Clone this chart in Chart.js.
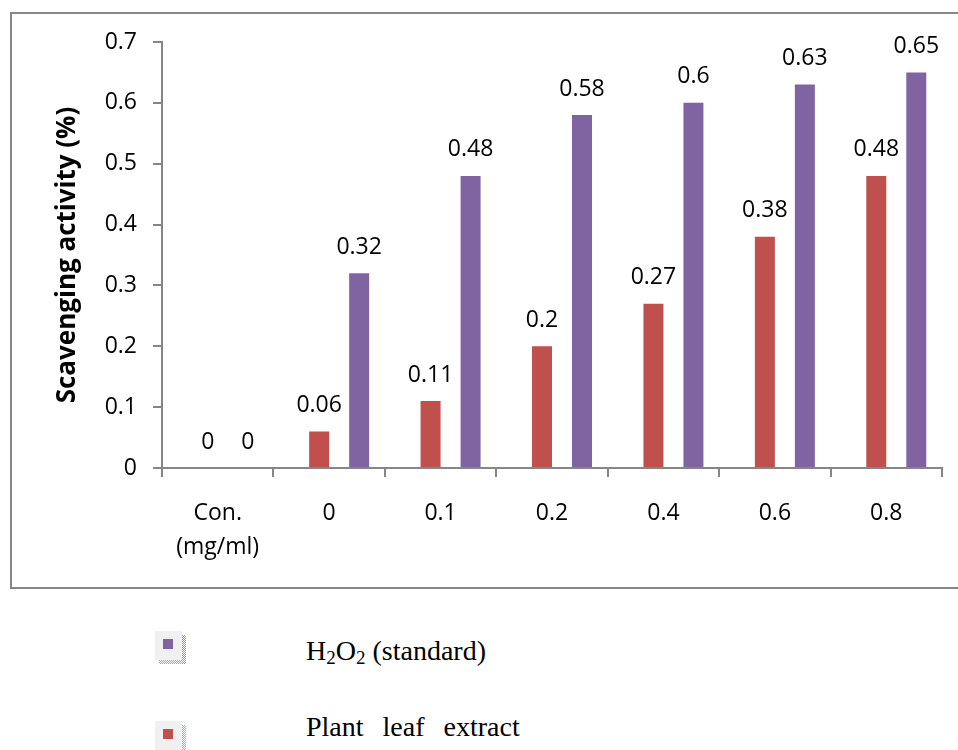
<!DOCTYPE html>
<html>
<head>
<meta charset="utf-8">
<script src="https://cdn.jsdelivr.net/npm/chart.js@4.4.1/dist/chart.umd.min.js"></script>
<style>
  body { margin: 0; background: #fff; width: 958px; height: 750px; overflow: hidden; position: relative; }
  #chart { position: absolute; left: 0; top: 0; }
  .frame { position: absolute; left: 10px; top: 12px; width: 970px; height: 573px; border: 2px solid #868686; pointer-events: none; }
  .legend-item { position: absolute; left: 306px; font-family: "Liberation Serif", serif; font-size: 28px; color: #000; white-space: nowrap; }
  .legend-item sub { font-size: 19px; vertical-align: -4px; line-height: 0; }
  .icon { position: absolute; left: 155px; width: 27px; height: 29px; background: #f0f0f0; }
  .icon .shade { position: absolute; left: 4px; top: 4px; width: 27px; height: 29px;
    background-image: repeating-conic-gradient(var(--c) 0 25%, #fff 0 50%); background-size: 2px 2px; z-index: -1; }
  .icon .sw { position: absolute; left: 8px; top: 8px; width: 10px; height: 10px; }
</style>
</head>
<body>
<canvas id="chart" width="958" height="600"></canvas>
<div class="frame"></div>

<div class="icon" style="top:631px; --c:#a898c0"><div class="shade"></div><div class="sw" style="background:#8064a2"></div></div>
<div class="legend-item" style="top:635px">H<sub>2</sub>O<sub>2</sub> (standard)</div>

<div class="icon" style="top:721px; --c:#c8a0a0"><div class="shade"></div><div class="sw" style="background:#c0504d"></div></div>
<div class="legend-item" style="top:711px; word-spacing:12px">Plant leaf extract</div>

<script>
const categories = [["Con.", "(mg/ml)"], "0", "0.1", "0.2", "0.4", "0.6", "0.8"];
const plantLeaf = [0, 0.06, 0.11, 0.2, 0.27, 0.38, 0.48];
const h2o2 = [0, 0.32, 0.48, 0.58, 0.6, 0.63, 0.65];
const yTicks = [0, 0.1, 0.2, 0.3, 0.4, 0.5, 0.6, 0.7];

const axisGray = "#868686";
const tickFont = { family: "Open Sans", size: 23 };

// empty columns from the sheet still take a slot in each group
const blank = categories.map(() => null);

// value labels above bars (no datalabels plugin offline)
const valueLabels = {
  id: "valueLabels",
  afterDatasetsDraw(chart) {
    const ctx = chart.ctx;
    ctx.save();
    ctx.font = "23px 'Open Sans'";
    ctx.fillStyle = "#000";
    ctx.textAlign = "center";
    ctx.textBaseline = "middle";
    chart.data.datasets.forEach((ds, i) => {
      if (!ds.showValues) return;
      chart.getDatasetMeta(i).data.forEach((bar, j) => {
        const v = ds.data[j];
        if (v == null) return;
        ctx.fillText(String(v), bar.x, bar.y - 26);
      });
    });
    ctx.restore();
  },
};

new Chart(document.getElementById("chart"), {
  type: "bar",
  data: {
    labels: categories,
    datasets: [
      { label: "", data: blank },
      {
        label: "Plant leaf extract",
        data: plantLeaf,
        backgroundColor: "#c0504d",
        showValues: true,
      },
      { label: "", data: blank },
      {
        label: "H2O2 (standard)",
        data: h2o2,
        backgroundColor: "#8064a2",
        showValues: true,
      },
    ],
  },
  options: {
    responsive: false,
    animation: false,
    events: [],
    layout: { padding: { left: 0, top: 42, right: 16, bottom: 0 } },
    datasets: {
      bar: { categoryPercentage: 0.718, barPercentage: 1, borderWidth: 0 },
    },
    plugins: {
      legend: { display: false },
      tooltip: { enabled: false },
    },
    scales: {
      x: {
        offset: true,
        grid: {
          display: true,
          drawOnChartArea: false,
          offset: true,
          color: axisGray,
          lineWidth: 2,
          tickLength: 9,
        },
        border: { color: axisGray, width: 2 },
        ticks: {
          font: { ...tickFont, lineHeight: 1.48 },
          color: "#000",
          padding: 19,
          maxRotation: 0,
          autoSkip: false,
        },
        afterFit: (scale) => { scale.height = 132; },
      },
      y: {
        min: 0,
        max: 0.7,
        afterBuildTicks: (scale) => { scale.ticks = yTicks.map((v) => ({ value: v })); },
        grid: {
          display: true,
          drawOnChartArea: false,
          color: axisGray,
          lineWidth: 2,
          tickLength: 9,
        },
        border: { color: axisGray, width: 2 },
        ticks: { font: tickFont, color: "#000", padding: 16 },
        title: {
          display: true,
          text: "Scavenging activity (%)",
          color: "#000",
          font: { family: "Open Sans", size: 26, weight: "bold", lineHeight: 1.2 },
          padding: { top: 52, bottom: 0 },
        },
        afterFit: (scale) => { scale.width = 162; },
      },
    },
  },
  plugins: [valueLabels],
});
</script>
</body>
</html>
